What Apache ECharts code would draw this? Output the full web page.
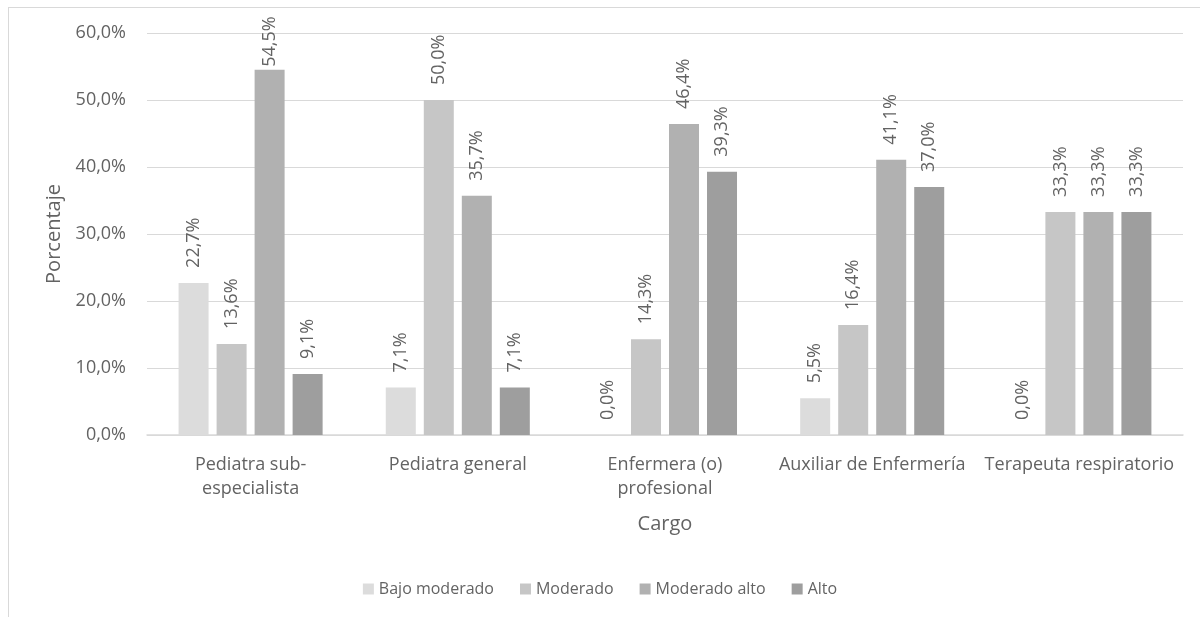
<!DOCTYPE html>
<html><head><meta charset="utf-8">
<script src="https://cdn.jsdelivr.net/npm/echarts@6/dist/echarts.min.js"></script>
<style>
html,body{margin:0;padding:0;background:#fff;}
#frame{position:absolute;left:8px;top:7px;width:1400px;height:800px;border-left:1px solid #d9d9d9;border-top:1px solid #d9d9d9;}
#c{position:absolute;left:0;top:0;width:1200px;height:617px;}
</style></head>
<body>
<div id="frame"></div>
<div id="c"></div>
<script>
const categories = ['Pediatra sub-\nespecialista','Pediatra general','Enfermera (o)\nprofesional','Auxiliar de Enfermería','Terapeuta respiratorio'];
const seriesNames = ['Bajo moderado','Moderado','Moderado alto','Alto'];
const bajoModerado = [22.7, 7.1, 0.0, 5.5, 0.0];
const moderado = [13.6, 50.0, 14.3, 16.4, 33.3];
const moderadoAlto = [54.5, 35.7, 46.4, 41.1, 33.3];
const alto = [9.1, 7.1, 39.3, 37.0, 33.3];
const yTicks = [0, 10, 20, 30, 40, 50, 60];

const colors = ['#dcdcdc','#c6c6c6','#b1b1b1','#9e9e9e'];
const dataSets = [bajoModerado, moderado, moderadoAlto, alto];
const fmt = v => v.toFixed(1).replace('.', ',') + '%';
const font = 'Open Sans';
const txt = '#636363';

const H = 617, gridTop = 33, gridBottom = 182;
const yMax = yTicks[yTicks.length-1];
const pxPerUnit = (H - gridTop - gridBottom) / yMax;
const baseGap = 15;
// keep rotated labels inside the chart frame (like the original): shrink the gap when needed
function labelShift(v){
  const barTop = H - gridBottom - v * pxPerUnit;
  const room = barTop - baseGap - 53 - 14;
  return room < 0 ? Math.min(baseGap - 3, -room) : 0;
}

const chart = echarts.init(document.getElementById('c'));
chart.setOption({
  animation:false,
  textStyle:{fontFamily:font},
  color:colors,
  grid:{left:147,right:17,top:gridTop,bottom:gridBottom},
  legend:{
    data:seriesNames, top:576, left:'center',
    itemWidth:11,itemHeight:11,itemGap:26,icon:'rect',
    textStyle:{color:txt,fontSize:16,fontFamily:font}
  },
  xAxis:{
    type:'category', data:categories,
    name:'Cargo', nameLocation:'middle', nameGap:79,
    nameTextStyle:{color:txt,fontSize:20,fontFamily:font},
    axisLine:{lineStyle:{color:'#d9d9d9',width:1.5}},
    axisTick:{show:false},
    axisLabel:{color:txt,fontSize:18,lineHeight:24,margin:18,interval:0,fontFamily:font}
  },
  yAxis:{
    type:'value', min:yTicks[0], max:yMax, interval:10,
    name:'Porcentaje', nameLocation:'middle', nameGap:83,
    nameTextStyle:{color:txt,fontSize:20,fontFamily:font},
    axisLine:{show:false}, axisTick:{show:false},
    splitLine:{lineStyle:{color:'#d9d9d9',width:1.2}},
    axisLabel:{color:txt,fontSize:18,margin:21,formatter:v=>fmt(v),fontFamily:font}
  },
  series: seriesNames.map((n,i)=>({
    name:n, type:'bar',
    data:dataSets[i].map(v=>{
      const s = labelShift(v);
      return s ? {value:v, label:{offset:[-s, 0]}} : v;
    }),
    barWidth:30, barGap:'26.7%',
    itemStyle:{color:colors[i]},
    label:{show:true, position:'top', rotate:90, align:'left', verticalAlign:'middle',
      distance:baseGap, color:txt, fontSize:18, fontFamily:font, formatter:p=>fmt(p.value)}
  }))
});
</script>
</body></html>
